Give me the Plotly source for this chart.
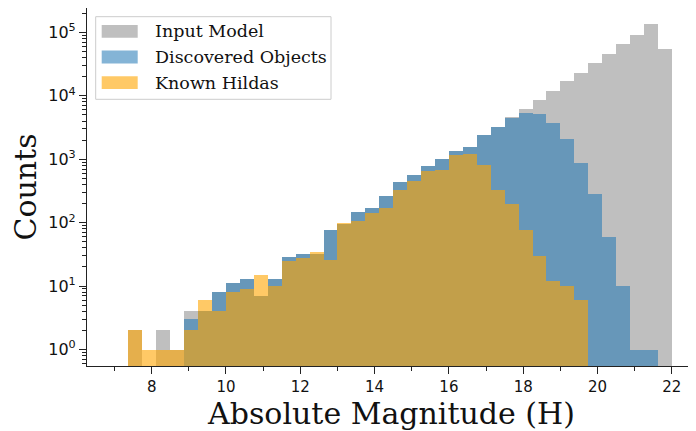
import numpy as np
import plotly.graph_objects as go

# Histogram bins (absolute magnitude H)
bin_start = 7.375
bin_width = 0.375
n_bins = 39

input_model = [2, None, 2, 1, 4, 4, 8, 11, 13, 7, 13, 29, 32, 32, 76, 96, 146, 169, 261, 434,
               560, 776, 1000, 1336, 1549, 2388, 3200, 4585, 6130, 8490, 11780, 16900, 22600,
               32500, 45100, 64700, 89700, 133700, 54000]
discovered = [None, None, None, None, 3, 4, 8, 11, 13, 7, 13, 29, 32, 32, 76, 95, 146, 169, 261, 434,
              560, 776, 1000, 1336, 1549, 2388, 3190, 4470, 5300, 5110, 3690, 2065, 865,
              281, 59, 10, 1, 1, None]
known_hildas = [2, 1, 1, 1, 2, 6, 4, 8, 9, 15, 10, 25, 28, 34, 26, 98, 106, 141, 171, 325,
                451, 647, 679, 1169, 1213, 805, 329, 196, 76, 30, 12, 10, 6,
                None, None, None, None, None, None]

series_names = ["Input Model", "Discovered Objects", "Known Hildas"]
series_colors = ["rgba(128,128,128,0.5)", "rgba(31,119,180,0.55)", "rgba(255,165,0,0.6)"]

x_tickvals = [8, 10, 12, 14, 16, 18, 20, 22]
y_tickvals = [1, 10, 100, 1000, 10000, 100000]
y_ticktext = ["10<sup>0</sup>", "10<sup>1</sup>", "10<sup>2</sup>", "10<sup>3</sup>",
              "10<sup>4</sup>", "10<sup>5</sup>"]

centers = bin_start + bin_width * (np.arange(n_bins) + 0.5)

fig = go.Figure()
for name, vals, col in zip(series_names, [input_model, discovered, known_hildas], series_colors):
    fig.add_trace(go.Bar(
        x=centers, y=vals, width=bin_width, name=name,
        marker=dict(color=col, line=dict(width=0)),
        showlegend=False,
    ))

minor_y = [m * 10 ** k for k in range(-1, 6) for m in range(2, 10)]
minor_x = [7, 9, 11, 13, 15, 17, 19, 21]

# plot area in window pixels (page has an 8px body margin)
PX0, PX1, PY0, PY1 = 87.0, 696.0, 8.0, 366.0


def px(x):
    return (x - PX0) / (PX1 - PX0)


def py(y):
    return (PY1 - y) / (PY1 - PY0)


# hand-drawn legend (matplotlib-style wide patches)
shapes = [dict(type="rect", xref="paper", yref="paper",
               x0=px(95.7), x1=px(331), y0=py(99.3), y1=py(16.7),
               fillcolor="rgba(255,255,255,0.8)", line=dict(color="#cccccc", width=1), layer="above")]
annotations = []
for i, (name, col) in enumerate(zip(series_names, series_colors)):
    cy = 31.3 + 25.7 * i
    shapes.append(dict(type="rect", xref="paper", yref="paper",
                       x0=px(101.7), x1=px(137.7), y0=py(cy + 6.4), y1=py(cy - 6.4),
                       fillcolor=col, line=dict(width=0), layer="above"))
    annotations.append(dict(xref="paper", yref="paper", x=px(152.7), y=py(cy),
                            xanchor="left", yanchor="middle", showarrow=False, text=name,
                            font=dict(family="DejaVu Serif", size=17.5, color="#111")))

fig.update_layout(
    width=696, height=431,
    margin=dict(l=79, r=8, t=0, b=73, pad=0),
    barmode="overlay", bargap=0,
    plot_bgcolor="white", paper_bgcolor="white",
    showlegend=False,
    shapes=shapes, annotations=annotations,
    xaxis=dict(
        range=[6.26, 22.65], tickvals=x_tickvals, automargin=False,
        ticks="outside", ticklen=7, tickwidth=1.2, tickcolor="#222",
        showline=True, linecolor="#222", linewidth=1.2, mirror=True,
        showgrid=False, zeroline=False,
        tickfont=dict(family="DejaVu Sans", size=15, color="#111"),
        minor=dict(tickvals=minor_x, ticks="outside", ticklen=4, tickcolor="#222", tickwidth=1),
        title=dict(text="Absolute Magnitude (H)", font=dict(family="DejaVu Serif", size=30, color="#111"),
                   standoff=2),
    ),
    yaxis=dict(
        type="log", range=[-0.26, 5.384], automargin=False,
        tickvals=y_tickvals, ticktext=y_ticktext,
        ticks="outside", ticklen=7, tickwidth=1.2, tickcolor="#222",
        showline=True, linecolor="#222", linewidth=1.2, mirror=False,
        showgrid=False, zeroline=False,
        tickfont=dict(family="DejaVu Sans", size=16, color="#111"),
        minor=dict(tickvals=minor_y, ticks="outside", ticklen=4, tickcolor="#222", tickwidth=1),
        title=dict(text="Counts", font=dict(family="DejaVu Serif", size=30, color="#111"),
                   standoff=14),
    ),
)

fig.write_html("out.html")
